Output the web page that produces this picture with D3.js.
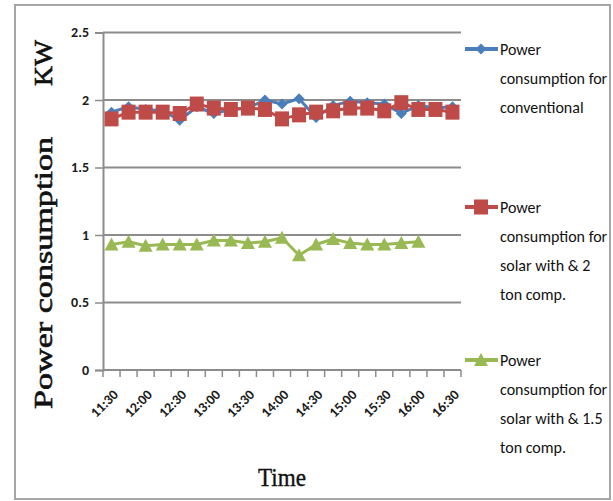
<!DOCTYPE html>
<html><head><meta charset="utf-8">
<script src="https://cdn.jsdelivr.net/npm/d3@7"></script>
<style>
body{margin:0;background:#fff;}
svg{display:block;}
</style></head>
<body>
<svg id="chart" width="613" height="501"></svg>
<script>
const categories = ["11:30","11:45","12:00","12:15","12:30","12:45","13:00","13:15","13:30","13:45","14:00","14:15","14:30","14:45","15:00","15:15","15:30","15:45","16:00","16:15","16:30"];
const tickLabels = ["11:30","12:00","12:30","13:00","13:30","14:00","14:30","15:00","15:30","16:00","16:30"];
const yTicks = [0, 0.5, 1, 1.5, 2, 2.5];
const conventional = [1.91,1.95,1.93,1.92,1.85,1.95,1.90,1.93,1.94,2.00,1.97,2.01,1.87,1.96,1.99,1.98,1.97,1.90,1.96,1.94,1.95];
const solar2ton = [1.86,1.91,1.91,1.91,1.90,1.97,1.94,1.93,1.94,1.93,1.86,1.89,1.91,1.92,1.94,1.94,1.92,1.98,1.93,1.93,1.91];
const solar15ton = [0.93,0.95,0.92,0.93,0.93,0.93,0.96,0.96,0.94,0.95,0.98,0.85,0.93,0.97,0.94,0.93,0.93,0.94,0.95];
const seriesNames = [
  ["Power","consumption for","conventional"],
  ["Power","consumption for","solar with & 2","ton comp."],
  ["Power","consumption for","solar with & 1.5","ton comp."]
];
const colors = ["#4a7ebb","#be4b48","#98b954"];

(function(){
const svg = d3.select("#chart");
const narrow = "Carlito, 'Liberation Sans Narrow', 'DejaVu Sans Condensed', 'Open Sans', sans-serif";
const serif = "'Liberation Serif', 'DejaVu Serif', serif";

// outer border
svg.append("rect").attr("x",15).attr("y",5).attr("width",595).attr("height",494)
  .attr("fill","#fff").attr("stroke","#a6a6a6").attr("stroke-width",2);

const pLeft = 103, pRight = 461, pTop = 32.5, pBottom = 370;
const x = d3.scaleBand().domain(categories).range([pLeft, pRight]).padding(0);
const y = d3.scaleLinear().domain([0, 2.5]).range([pBottom, pTop]);
const cx = d => x(d) + x.bandwidth()/2;

// gridlines
svg.append("g").selectAll("line").data(yTicks.filter(t => t > 0)).join("line")
  .attr("x1", pLeft).attr("x2", pRight).attr("y1", d => y(d)).attr("y2", d => y(d))
  .attr("stroke","#8c8c8c").attr("stroke-width",2);

// y axis
const yAxis = svg.append("g").attr("transform",`translate(${pLeft},0)`)
  .call(d3.axisLeft(y).tickValues(yTicks).tickSize(8).tickPadding(6).tickFormat(d3.format("")));
yAxis.select(".domain").attr("stroke","#8c8c8c").attr("stroke-width",2);
yAxis.selectAll(".tick line").attr("stroke","#8c8c8c").attr("stroke-width",1.5);
yAxis.selectAll("text").attr("font-family",narrow).attr("font-size",14).attr("font-weight","bold")
  .attr("fill","#1a1a1a");

// x axis with tick marks between categories
const xg = svg.append("g").attr("transform",`translate(0,${pBottom})`);
xg.append("line").attr("x1",pLeft).attr("x2",pRight).attr("y1",0).attr("y2",0)
  .attr("stroke","#8c8c8c").attr("stroke-width",2);
const bounds = categories.map(c => x(c)).concat([pRight]);
xg.selectAll("line.t").data(bounds).join("line").attr("class","t")
  .attr("x1", d => d).attr("x2", d => d).attr("y1",0).attr("y2",7)
  .attr("stroke","#8c8c8c").attr("stroke-width",1.5);
xg.selectAll("text").data(tickLabels).join("text")
  .attr("transform", d => `translate(${cx(d)+4},${22}) rotate(-45)`)
  .attr("text-anchor","end").attr("dy","0.35em")
  .attr("font-family",narrow).attr("font-size",14).attr("font-weight","bold").attr("fill","#1a1a1a")
  .text(d => d);

// lines
const seriesData = [conventional, solar2ton, solar15ton];
const line = d3.line().x((d,i) => cx(categories[i])).y(d => y(d));
seriesData.forEach((s, k) => {
  svg.append("path").datum(s).attr("d", line).attr("fill","none")
    .attr("stroke", colors[k]).attr("stroke-width", 3).attr("stroke-linejoin","round");
});

function marker(g, k, px, py) {
  if (k === 0) {
    g.append("path").attr("d", `M${px},${py-5.5}L${px+5.5},${py}L${px},${py+5.5}L${px-5.5},${py}Z`).attr("fill", colors[0]);
  } else if (k === 1) {
    g.append("rect").attr("x", px-7).attr("y", py-7.5).attr("width",14).attr("height",15).attr("fill", colors[1]);
  } else {
    g.append("path").attr("d", `M${px},${py-7}L${px+7},${py+6}L${px-7},${py+6}Z`).attr("fill", colors[2]);
  }
}
seriesData.forEach((s, k) => {
  const g = svg.append("g");
  s.forEach((v, i) => marker(g, k, cx(categories[i]), y(v)));
});

// y axis title
svg.append("text").attr("transform","translate(52,273) rotate(-90)")
  .attr("text-anchor","middle").attr("font-family",serif).attr("font-size",26)
  .attr("fill","#111").attr("stroke","#111").attr("stroke-width",0.6)
  .attr("textLength",272).attr("lengthAdjust","spacingAndGlyphs")
  .text("Power consumption");
svg.append("text").attr("transform","translate(52,63) rotate(-90)")
  .attr("text-anchor","middle").attr("font-family",serif).attr("font-size",26)
  .attr("fill","#111").attr("stroke","#111").attr("stroke-width",0.6)
  .attr("textLength",46).attr("lengthAdjust","spacingAndGlyphs")
  .text("KW");

// x axis title
svg.append("text").attr("x",282).attr("y",486).attr("text-anchor","middle")
  .attr("font-family",serif).attr("font-size",26).attr("fill","#111")
  .attr("stroke","#111").attr("stroke-width",0.4)
  .attr("textLength",48).attr("lengthAdjust","spacingAndGlyphs").text("Time");

// legend
const legendY = [49, 207, 360];
seriesNames.forEach((lines, k) => {
  const g = svg.append("g");
  g.append("line").attr("x1",465).attr("x2",498).attr("y1",legendY[k]).attr("y2",legendY[k])
    .attr("stroke",colors[k]).attr("stroke-width",4);
  marker(g, k, 481, legendY[k]);
  lines.forEach((t, j) => {
    g.append("text").attr("x",500).attr("y",legendY[k] + j*29).attr("dy","0.35em")
      .attr("font-family",narrow).attr("font-size",16).attr("fill","#111").text(t);
  });
});
})();
</script>
</body></html>
